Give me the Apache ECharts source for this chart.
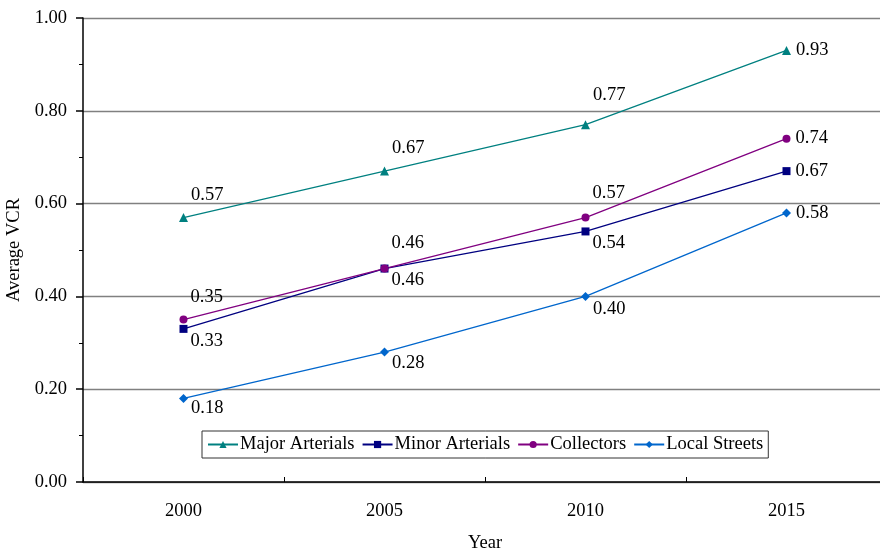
<!DOCTYPE html>
<html>
<head>
<meta charset="utf-8">
<script src="https://cdn.jsdelivr.net/npm/echarts@6/dist/echarts.min.js"></script>
<style>html,body{margin:0;padding:0;background:#fff}#c{width:880px;height:552px}</style>
</head>
<body>
<div id="c"></div>
<script>
const years = ['2000', '2005', '2010', '2015'];
const majorArterials = [0.57, 0.67, 0.77, 0.93];
const minorArterials = [0.33, 0.46, 0.54, 0.67];
const collectors = [0.35, 0.46, 0.57, 0.74];
const localStreets = [0.18, 0.28, 0.40, 0.58];
const seriesNames = ['Major Arterials', 'Minor Arterials', 'Collectors', 'Local Streets'];

const FONT = '"Liberation Serif", "Times New Roman", serif';
const FS = 18.5;
const styles = [
  { color: '#008080', symbol: 'triangle', size: 9, dy: [-22, -23, -30, 0] },
  { color: '#000080', symbol: 'rect', size: 8, dy: [12, 12, 12, 0] },
  { color: '#800080', symbol: 'circle', size: 8, dy: [-22, -25, -24, 0] },
  { color: '#0066cc', symbol: 'diamond', size: 9, dy: [10, 11, 13, 0] }
];
const allData = [majorArterials, minorArterials, collectors, localStreets];

const series = allData.map((vals, si) => {
  const st = styles[si];
  return {
    name: seriesNames[si],
    type: 'line',
    data: vals.map((v, i) => ({
      value: v,
      label: { offset: [i === vals.length - 1 ? 0 : -2, st.dy[i]] }
    })),
    symbol: st.symbol,
    symbolSize: st.size,
    itemStyle: { color: st.color },
    lineStyle: { color: st.color, width: 1.3 },
    animation: false,
    label: {
      show: true,
      position: 'right',
      distance: 5,
      color: '#000',
      fontFamily: FONT,
      fontSize: FS,
      formatter: p => p.value.toFixed(2)
    }
  };
});

const chart = echarts.init(document.getElementById('c'));
chart.setOption({
  animation: false,
  grid: { left: 83, right: -7, top: 18, bottom: 70, containLabel: false, outerBoundsMode: 'none' },
  legend: {
    data: seriesNames,
    left: 202,
    top: 431,
    padding: [4, 5],
    itemGap: 7,
    itemWidth: 30,
    itemHeight: 9,
    borderColor: '#333',
    borderWidth: 1,
    backgroundColor: '#fff',
    textStyle: { fontFamily: FONT, fontSize: FS, color: '#000', padding: [0, 0, 0, -3] }
  },
  xAxis: {
    type: 'category',
    data: years,
    boundaryGap: true,
    name: 'Year',
    nameLocation: 'middle',
    nameGap: 52,
    nameTextStyle: { fontFamily: FONT, fontSize: FS, color: '#000' },
    axisLine: { lineStyle: { color: '#000', width: 1.5 } },
    axisTick: { show: true, inside: true, length: 5, lineStyle: { color: '#000' } },
    axisLabel: { fontFamily: FONT, fontSize: FS, color: '#000', margin: 20 },
    splitLine: { show: false }
  },
  yAxis: {
    type: 'value',
    min: 0,
    max: 1,
    interval: 0.2,
    name: 'Average VCR',
    nameLocation: 'middle',
    nameRotate: 90,
    nameGap: 52,
    nameTextStyle: { fontFamily: FONT, fontSize: FS, color: '#000' },
    axisLine: { show: true, lineStyle: { color: '#000', width: 1.5 } },
    axisTick: { show: true, length: 7, lineStyle: { color: '#000', width: 1.5 } },
    minorTick: { show: true, splitNumber: 2, length: 4, lineStyle: { color: '#000', width: 1 } },
    axisLabel: { fontFamily: FONT, fontSize: FS, color: '#000', margin: 16, formatter: v => v.toFixed(2) },
    splitLine: { show: true, lineStyle: { color: '#808080', width: 1.3 } }
  },
  series: series
});
</script>
</body>
</html>
